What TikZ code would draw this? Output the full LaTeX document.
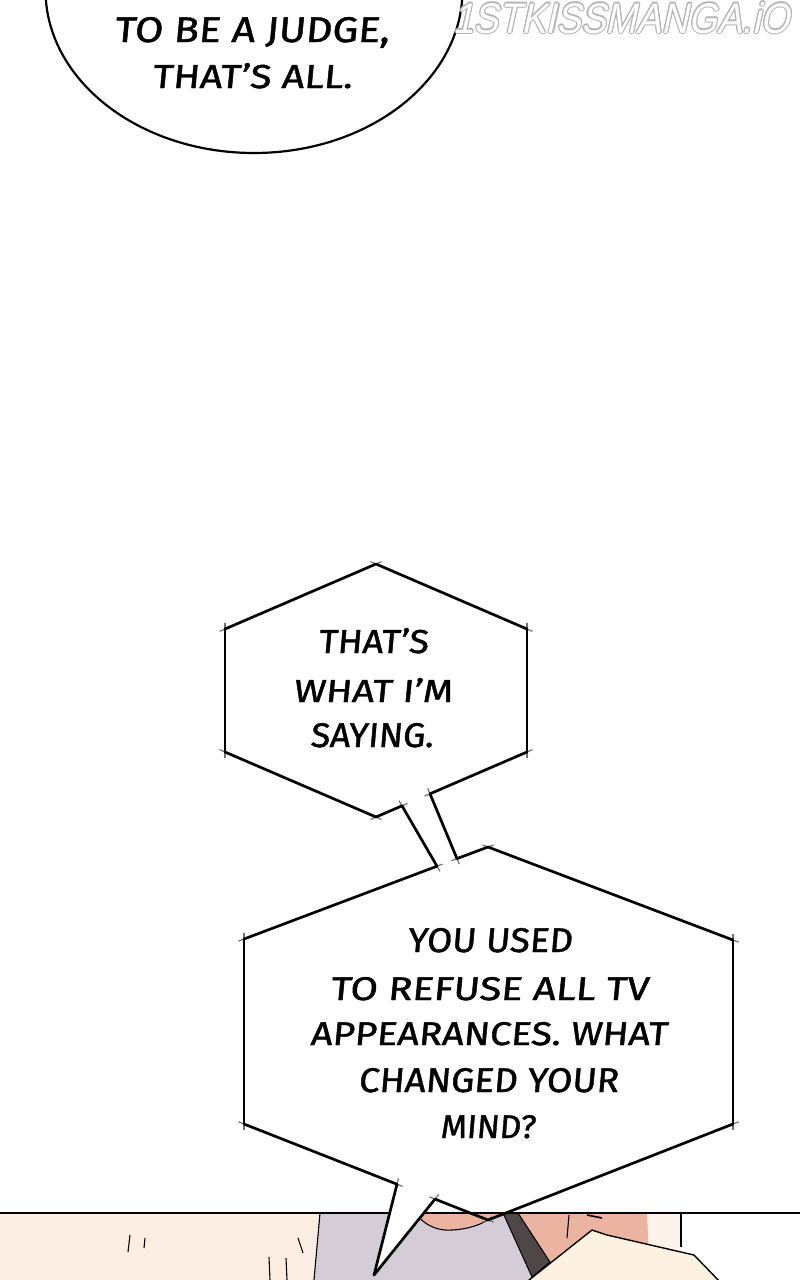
\documentclass[tikz,border=0pt]{standalone}
\usepackage{fontspec}
\usepackage{graphicx}
\setmainfont{Fira Sans}[FakeSlant=0.08, FakeBold=1.2]
\newfontfamily\wmfont{Liberation Sans}[FakeSlant=0.25]
\definecolor{peach}{HTML}{FCEDE2}
\definecolor{cream}{HTML}{FDF3EA}
\definecolor{shirt}{HTML}{D4CDD8}
\definecolor{skin}{HTML}{EBB4A0}
\definecolor{strap}{HTML}{4E4647}
\definecolor{handc}{HTML}{FDF1E1}
\definecolor{wmgray}{HTML}{B5B5B5}
\begin{document}
\begin{tikzpicture}[x=1pt,y=-1pt,
  edge/.style={line width=2.7pt, line cap=round},
  tick/.style={draw=black!55, line width=1.2pt, shorten <=-6pt, shorten >=-6pt},
  tickstart/.style={draw=black!55, line width=1.2pt, shorten <=-6pt},
  thinline/.style={line width=1.1pt},
  txt/.style={inner sep=0pt, anchor=base west, text=black},
  wm/.style={inner sep=0pt, anchor=base west}]
\useasboundingbox (0,0) rectangle (800,1280);
\clip (0,0) rectangle (800,1280);
\fill[white] (0,0) rectangle (800,1280);

% ---------- coordinates ----------
\coordinate (T1) at (376,564);
\coordinate (UR1) at (527,629);
\coordinate (LR1) at (527,752);
\coordinate (B1) at (376,817);
\coordinate (LL1) at (225,752);
\coordinate (UL1) at (225,629);
\coordinate (J1a) at (402,805.8);
\coordinate (J1b) at (430,793.8);
\coordinate (K2a) at (437,866.2);
\coordinate (K2b) at (457,858.6);
\coordinate (T2) at (488,847);
\coordinate (UR2) at (733,940);
\coordinate (LR2) at (733,1124);
\coordinate (B2) at (488,1220);
\coordinate (LL2) at (244,1124);
\coordinate (UL2) at (244,939);
\coordinate (J2a) at (397,1184.2);
\coordinate (J2b) at (435,1199.1);
\coordinate (Tip) at (374,1275);

% ---------- bottom panel scene ----------
\fill[peach] (0,1213) rectangle (800,1280);
\fill[white] (681,1213) rectangle (800,1280);
\fill[cream] (647,1213) rectangle (681,1280);
\fill[skin] (517,1213) -- (647,1213) -- (650,1280) -- (540,1280) -- cycle;
\fill[shirt] (320,1213) -- (505,1213) -- (537,1280) -- (314,1280) -- cycle;
\fill[skin] (416,1213) .. controls (425,1227) and (440,1231) .. (452,1230)
  .. controls (470,1229) and (483,1224) .. (492,1217) -- (503,1213) -- cycle;
\draw[thinline] (416,1213) .. controls (425,1227) and (440,1231) .. (452,1230)
  .. controls (470,1229) and (483,1224) .. (492,1217);
\filldraw[fill=strap, draw=black, line width=1pt] (503,1213) -- (518,1213) -- (550,1262) -- (532,1277) -- cycle;
\filldraw[fill=handc, draw=black, line width=1.4pt] (524,1284) -- (592,1230) -- (607,1235) -- (694,1255) -- (722,1284) -- cycle;
\draw[thinline] (320,1213) -- (314,1280);
\draw[thinline] (681,1213) -- (681,1247);
\draw[thinline] (569,1215) -- (567,1238);
\draw[line width=1.6pt] (587,1215) -- (602,1218);
\draw[thinline] (130,1235) -- (128,1252);
\draw[thinline] (145,1238) -- (144,1248);
\draw[thinline] (298,1238) -- (303,1253);
\draw[thinline] (269,1257) -- (270,1280);
\draw[thinline] (286,1258) -- (287,1280);
\draw[line width=2pt] (0,1213) -- (800,1213);

% white tail of lower bubble
\fill[white] (J2a) -- (Tip) -- (J2b) -- cycle;

% ---------- top round bubble ----------
\draw[line width=2.2pt] (254,-10) ellipse [x radius=208.5pt, y radius=163pt];
\draw[line width=2.2pt, line cap=round] (384,45) -- (386,40);

% ---------- hexagonal bubbles ----------
\foreach \a/\b in {T1/UR1, UR1/LR1, LR1/J1b, J1a/B1, B1/LL1, LL1/UL1, UL1/T1,
                   J1a/K2a, J1b/K2b,
                   UL2/K2a, K2b/T2, T2/UR2, UR2/LR2, LR2/B2, B2/J2b, J2a/LL2, LL2/UL2}{
  \draw[tick] (\a) -- (\b);
}
\draw[tickstart] (J2a) -- (Tip);
\draw[tickstart] (J2b) -- (Tip);
\foreach \a/\b in {T1/UR1, UR1/LR1, LR1/J1b, J1a/B1, B1/LL1, LL1/UL1, UL1/T1,
                   J1a/K2a, J1b/K2b,
                   UL2/K2a, K2b/T2, T2/UR2, UR2/LR2, LR2/B2, B2/J2b, J2a/LL2, LL2/UL2,
                   J2a/Tip, J2b/Tip}{
  \draw[edge] (\a) -- (\b);
}

% ---------- texts ----------
\node[txt] (top1) at (114,42) {\resizebox{275pt}{25pt}{TO BE A JUDGE,}};
\node[txt] (top2) at (152,88) {\resizebox{200pt}{25pt}{THAT’S ALL.}};

\node[txt] (h1a) at (318,653) {\resizebox{110pt}{25pt}{THAT’S}};
\node[txt] (h1b) at (293,702) {\resizebox{159pt}{24pt}{WHAT I’M}};
\node[txt] (h1c) at (310,747) {\resizebox{123pt}{24pt}{SAYING.}};

\node[txt] (h2a) at (407,952) {\resizebox{165pt}{24pt}{YOU USED}};
\node[txt] (h2b) at (330,1000) {\resizebox{318pt}{23pt}{TO REFUSE ALL TV}};
\node[txt] (h2c) at (310,1045) {\resizebox{357pt}{23pt}{APPEARANCES. WHAT}};
\node[txt] (h2d) at (358,1092) {\resizebox{260pt}{24pt}{CHANGED YOUR}};
\node[txt] (h2e) at (440,1138) {\resizebox{95pt}{23pt}{MIND?}};

% ---------- watermark ----------
\foreach \ang in {0,30,...,330}{
  \node[wm, text=wmgray] at ([shift={(\ang:1.1pt)}]453,33) {\resizebox{336pt}{31pt}{\wmfont 1STKISSMANGA.iO}};
}
\node[wm, text=white] (wmark) at (453,33) {\resizebox{336pt}{31pt}{\wmfont 1STKISSMANGA.iO}};
\end{tikzpicture}
\end{document}
